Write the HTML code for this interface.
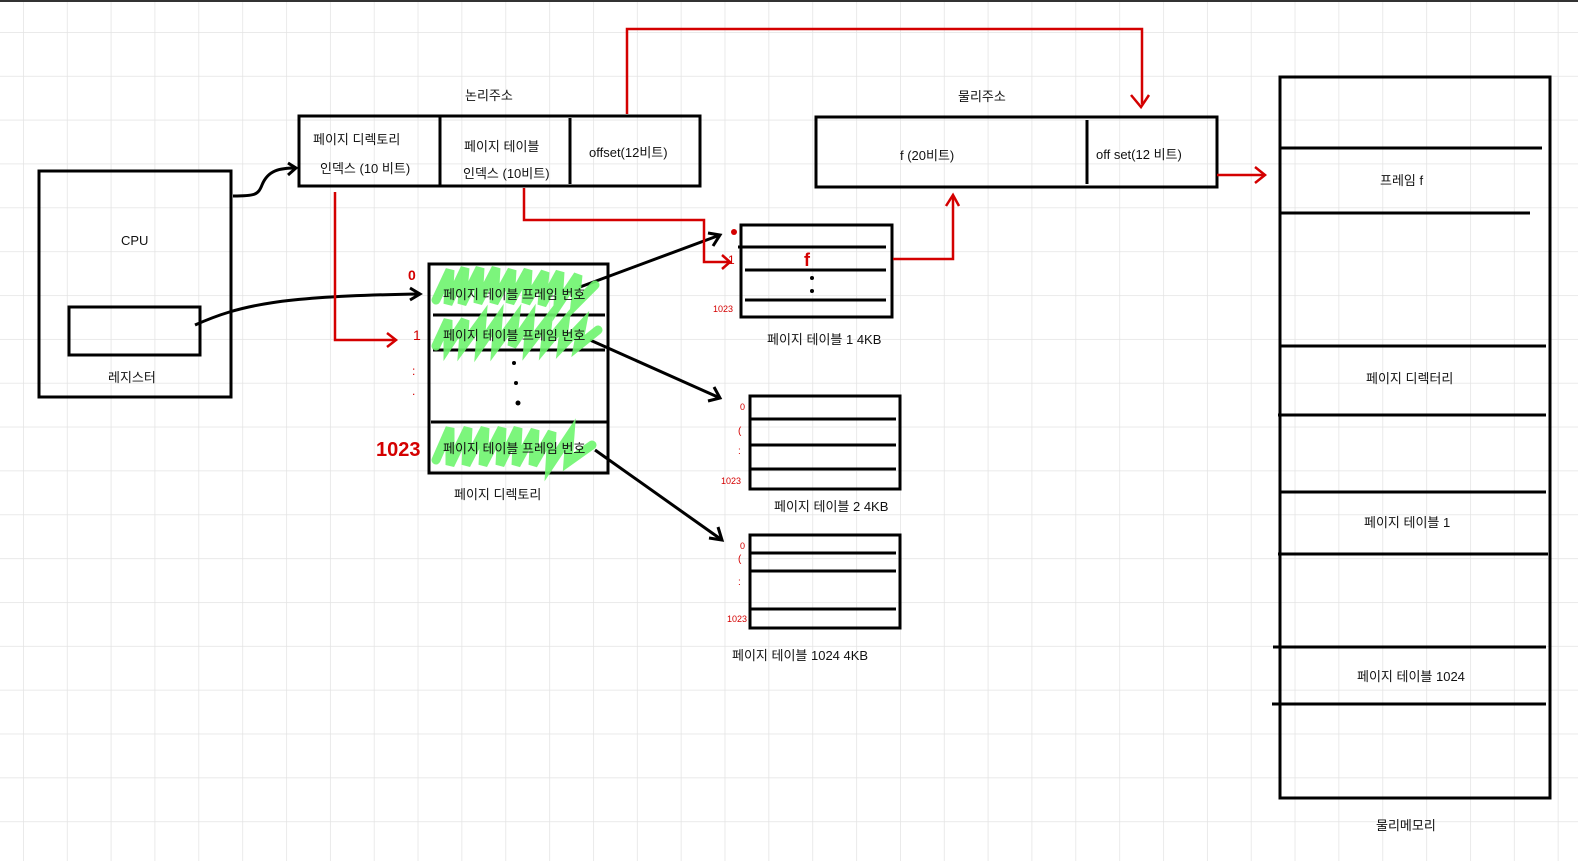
<!DOCTYPE html>
<html><head><meta charset="utf-8"><style>
html,body{margin:0;padding:0;background:#fff;overflow:hidden;width:1578px;height:861px}
svg{display:block;position:absolute;left:0;top:0}
text{font-family:"Liberation Sans","Noto Sans CJK KR","NanumGothic",sans-serif;fill:#111}
</style></head><body>
<svg width="1578" height="861" viewBox="0 0 1578 861" xmlns="http://www.w3.org/2000/svg">
<defs>
<pattern id="g" x="23" y="32" width="43.85" height="43.85" patternUnits="userSpaceOnUse">
<path d="M0 0V43.85M0 0H43.85" stroke="#e3e3e3" stroke-width="1.5" fill="none"/>
</pattern>
</defs>
<rect width="1578" height="861" fill="#fff"/>
<rect width="1578" height="861" fill="url(#g)"/>
<line x1="0" y1="1" x2="1578" y2="1" stroke="#333" stroke-width="2"/>

<g fill="none" stroke="#000" stroke-width="3">
<rect x="39" y="171" width="192" height="226"/>
<rect x="69" y="307" width="131" height="48"/>
<rect x="299" y="116" width="401" height="70"/>
<line x1="440" y1="116" x2="440" y2="186"/>
<line x1="570" y1="118" x2="570" y2="184"/>
<rect x="816" y="117" width="401" height="70"/>
<line x1="1087" y1="120" x2="1087" y2="184"/>
<rect x="429" y="264" width="179" height="209"/>
<line x1="433" y1="315" x2="605" y2="315"/>
<line x1="433" y1="350" x2="605" y2="350"/>
<line x1="431" y1="422" x2="607" y2="422"/>
<rect x="741" y="225" width="151" height="92"/>
<line x1="738" y1="247" x2="886" y2="247"/>
<line x1="745" y1="270" x2="886" y2="270"/>
<line x1="745" y1="300" x2="886" y2="300"/>
<rect x="750" y="396" width="150" height="93"/>
<line x1="750" y1="419" x2="896" y2="419"/>
<line x1="750" y1="445" x2="896" y2="445"/>
<line x1="750" y1="469" x2="896" y2="469"/>
<rect x="750" y="535" width="150" height="93"/>
<line x1="750" y1="553" x2="896" y2="553"/>
<line x1="750" y1="571" x2="896" y2="571"/>
<line x1="750" y1="609" x2="896" y2="609"/>
<rect x="1280" y="77" width="270" height="721"/>
<line x1="1280" y1="148" x2="1542" y2="148"/>
<line x1="1280" y1="213" x2="1530" y2="213"/>
<line x1="1280" y1="346" x2="1546" y2="346"/>
<line x1="1278" y1="415" x2="1546" y2="415"/>
<line x1="1280" y1="492" x2="1546" y2="492"/>
<line x1="1278" y1="554" x2="1548" y2="554"/>
<line x1="1273" y1="647" x2="1546" y2="647"/>
<line x1="1272" y1="704" x2="1546" y2="704"/>
<path d="M233 196 C255 196 258 195 262 185 C268 170 280 168 296 168"/>
<path d="M288 163 L296 168 L288 175"/>
<path d="M195 325 C240 305 280 296 420 294"/>
<path d="M410 288 L420 294 L410 300"/>
<path d="M580 287 L720 235"/>
<path d="M708 233 L720 235 L713 246"/>
<path d="M590 340 L720 398"/>
<path d="M714 387 L720 398 L708 401"/>
<path d="M595 450 L722 540"/>
<path d="M718 527 L722 540 L709 538"/>
</g>
<g fill="#000">
<circle cx="514" cy="363" r="2"/><circle cx="516" cy="383" r="2"/><circle cx="518" cy="403" r="2.5"/>
<circle cx="812" cy="278" r="2"/><circle cx="812" cy="291" r="2"/>
</g>

<g fill="none" stroke="#6ef56e" stroke-width="9" stroke-linecap="round" opacity="0.9">
<path d="M436 300 L450 270 L448 304 L465 268 L462 304 L480 268 L478 303 L496 268 L494 303 L512 270 L510 303 L528 270 L526 303 L545 272 L542 305 L560 272 L558 305 L578 275 L575 305 L595 285"/>
<path d="M436 346 L448 320 L448 346 L465 320 L463 346 L482 320 L480 346 L498 320 L496 346 L515 320 L512 346 L530 320 L528 346 L548 320 L545 346 L565 322 L562 346 L582 325 L578 346 L598 330"/>
<path d="M436 460 L450 428 L450 465 L468 428 L466 465 L485 428 L483 465 L502 428 L500 465 L518 428 L516 465 L535 430 L533 465 L552 432 L550 465 L570 435 L568 462 L592 445"/>
</g>

<g fill="none" stroke="#d40000" stroke-width="2.5">
<path d="M627 114 V29 H1142 V104"/>
<path d="M1131 95 L1141 107 L1149 95"/>
<path d="M335 192 V340 H395"/>
<path d="M387 333 L396 340 L387 347"/>
<path d="M524 188 V220 H704 V262 H730"/>
<path d="M722 255 L730 262 L722 269"/>
<path d="M893 259 H953 V196"/>
<path d="M946 206 L953 195 L959 206"/>
<path d="M1217 175 H1265"/>
<path d="M1255 167 L1265 175 L1255 183"/>
</g>
<g fill="#d40000" font-family="Liberation Sans,sans-serif">
<circle cx="734" cy="232" r="3"/>
<text x="408" y="280" font-size="14" font-weight="bold" style="fill:#d40000">0</text>
<text x="413" y="340" font-size="14" style="fill:#d40000">1</text>
<text x="412" y="375" font-size="12" style="fill:#d40000">:</text>
<text x="412" y="395" font-size="12" style="fill:#d40000">.</text>
<text x="376" y="456" font-size="20" font-weight="bold" style="fill:#d40000">1023</text>
<text x="728" y="264" font-size="12" style="fill:#d40000">1</text>
<text x="713" y="312" font-size="9" style="fill:#d40000">1023</text>
<text x="740" y="410" font-size="9" style="fill:#d40000">0</text>
<text x="738" y="434" font-size="10" style="fill:#d40000">(</text>
<text x="738" y="454" font-size="10" style="fill:#d40000">:</text>
<text x="721" y="484" font-size="9" style="fill:#d40000">1023</text>
<text x="740" y="549" font-size="9" style="fill:#d40000">0</text>
<text x="738" y="562" font-size="10" style="fill:#d40000">(</text>
<text x="738" y="585" font-size="10" style="fill:#d40000">:</text>
<text x="727" y="622" font-size="9" style="fill:#d40000">1023</text>
<text x="804" y="266" font-size="18" font-weight="bold" style="fill:#d40000">f</text>
</g>

<g font-size="13">
<text x="465" y="100">논리주소</text>
<text x="958" y="101">물리주소</text>
<text x="121" y="245">CPU</text>
<text x="108" y="382">레지스터</text>
<text x="313" y="144">페이지 디렉토리</text>
<text x="320" y="173">인덱스 (10 비트)</text>
<text x="464" y="151">페이지 테이블</text>
<text x="463" y="178">인덱스 (10비트)</text>
<text x="589" y="157">offset(12비트)</text>
<text x="900" y="160">f (20비트)</text>
<text x="1096" y="159">off set(12 비트)</text>
<text x="443" y="299">페이지 테이블 프레임 번호</text>
<text x="443" y="340">페이지 테이블 프레임 번호</text>
<text x="443" y="453">페이지 테이블 프레임 번호</text>
<text x="454" y="499">페이지 디렉토리</text>
<text x="767" y="344">페이지 테이블 1 4KB</text>
<text x="774" y="511">페이지 테이블 2 4KB</text>
<text x="732" y="660">페이지 테이블 1024 4KB</text>
<text x="1380" y="185">프레임 f</text>
<text x="1366" y="383">페이지 디렉터리</text>
<text x="1364" y="527">페이지 테이블 1</text>
<text x="1357" y="681">페이지 테이블 1024</text>
<text x="1376" y="830">물리메모리</text>
</g>
</svg>
</body></html>
